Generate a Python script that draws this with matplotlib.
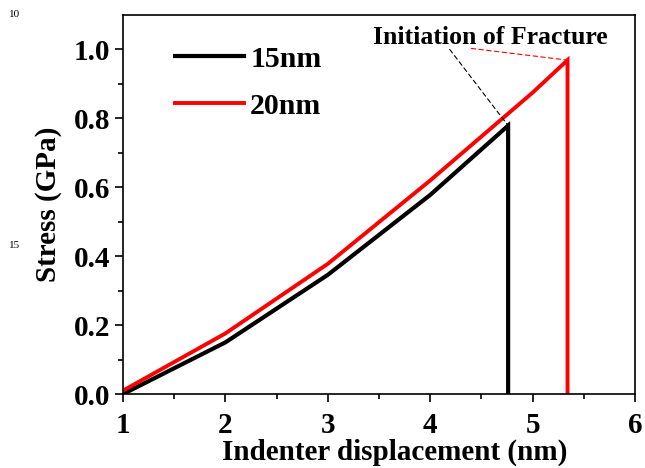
import numpy as np
import matplotlib.pyplot as plt

# stress-displacement curves
disp_15 = [1.0, 2.0, 3.0, 4.0, 4.76, 4.76]
stress_15 = [0.0, 0.15, 0.346, 0.578, 0.779, 0.0]
disp_20 = [1.0, 2.0, 3.0, 4.0, 5.0, 5.34, 5.34]
stress_20 = [0.01, 0.176, 0.378, 0.62, 0.875, 0.969, 0.0]

x_ticks = [1, 2, 3, 4, 5, 6]
y_ticks = [0.0, 0.2, 0.4, 0.6, 0.8, 1.0]

plt.rcParams['font.family'] = ['Liberation Serif', 'DejaVu Serif']
plt.rcParams['font.weight'] = 'bold'

fig = plt.figure(figsize=(6.45, 4.68), dpi=100)
ax = fig.add_axes([0.1907, 0.158, 0.794, 0.81])

ax.plot(disp_15, stress_15, color='black', lw=3.0, label='15nm', solid_joinstyle='miter')
ax.plot(disp_20, stress_20, color='red', lw=2.8, label='20nm', solid_joinstyle='miter')

ax.set_xlim(1, 6)
ax.set_ylim(0, 1.1)
ax.set_xticks(x_ticks)
ax.set_yticks(y_ticks)
ax.set_xticks(np.arange(1.5, 6, 0.5), minor=True)
ax.set_yticks(np.arange(0.1, 1.1, 0.2), minor=True)
ax.set_yticklabels(['%.1f' % v for v in y_ticks])
ax.tick_params(which='major', direction='out', length=6, width=1.2, labelsize=21)
ax.tick_params(axis='x', which='major', pad=7)
ax.tick_params(axis='y', which='major', pad=3)
ax.tick_params(which='minor', direction='out', length=3.5, width=1.2)
for sp in ax.spines.values():
    sp.set_linewidth(1.2)

ax.set_xlabel('Indenter displacement (nm)', fontsize=21, fontweight='bold', labelpad=0, x=0.53)
ax.set_ylabel('Stress (GPa)', fontsize=21, fontweight='bold', labelpad=9)

# fracture onset annotation
ax.text(4.584, 1.035, 'Initiation of Fracture', fontsize=18.5, fontweight='bold',
        ha='center', va='center')
ax.annotate('', xy=(disp_15[4], stress_15[4]), xytext=(4.19, 1.0),
            arrowprops=dict(arrowstyle='-', color='black', lw=0.8, linestyle=(0, (4, 3)),
                            shrinkA=0, shrinkB=0))
ax.annotate('', xy=(disp_20[5], stress_20[5]), xytext=(4.40, 1.003),
            arrowprops=dict(arrowstyle='-', color='red', lw=0.8, linestyle=(0, (4, 3)),
                            shrinkA=0, shrinkB=0))

ax.legend(loc='upper left', bbox_to_anchor=(0.05, 0.99), frameon=False,
          handlelength=2.3, handletextpad=0.2, labelspacing=0.68,
          prop={'weight': 'bold', 'size': 21.5})

# margin line numbers from the source page
fig.text(0.022, 0.968, '10', fontsize=8, fontweight='normal', ha='center', va='center')
fig.text(0.022, 0.475, '15', fontsize=8, fontweight='normal', ha='center', va='center')

fig.savefig('out.png', dpi=100)
